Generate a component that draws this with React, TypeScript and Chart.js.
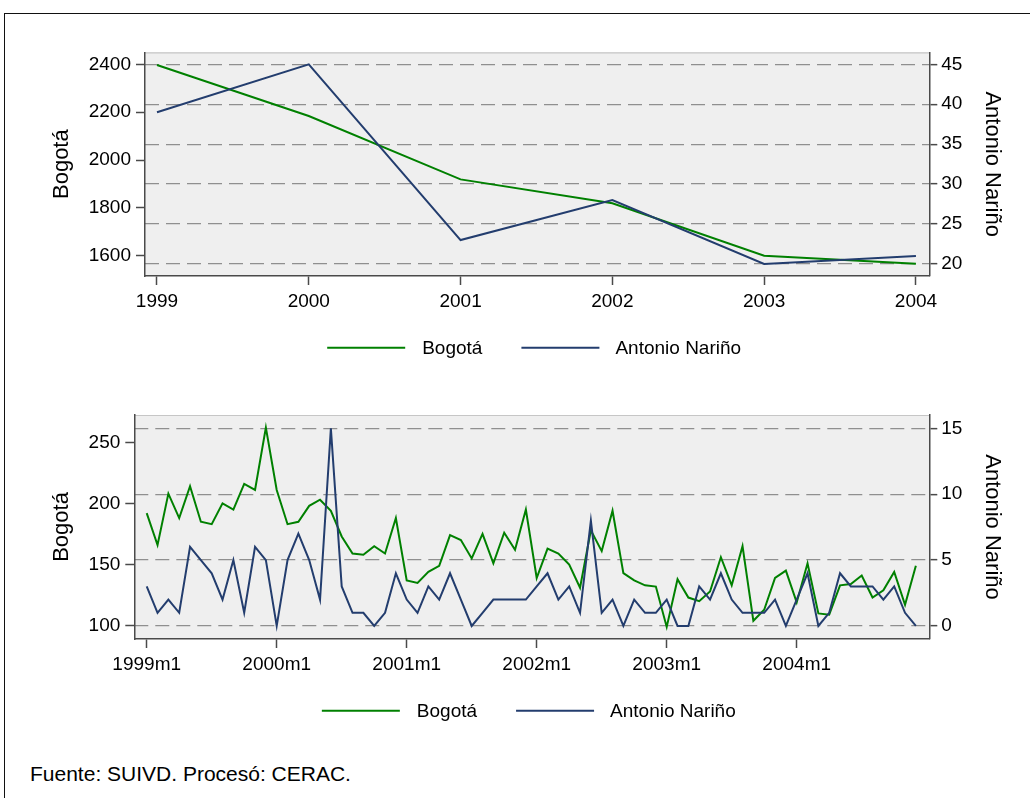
import React, { useEffect, useRef } from "react";
import { Chart, registerables } from "chart.js";

Chart.register(...registerables);

// ---------- data ----------
const years = [1999, 2000, 2001, 2002, 2003, 2004];
const bogotaYearly = [2397, 2184, 1919, 1819, 1600, 1566];
const narinoYearly = [39, 45, 23, 28, 20, 21];

const bogotaMonthly = [
  192, 166, 208, 188, 214, 185, 183, 200, 195, 216, 211, 262,
  211, 183, 185, 198, 203, 194, 173, 159, 158, 165, 159, 188,
  137, 135, 144, 149, 174, 170, 155, 175, 151, 176, 162, 195,
  139, 163, 159, 150, 131, 178, 161, 194, 143, 137, 133, 132,
  99, 138, 123, 120, 128, 156, 133, 165, 104, 113, 139, 145,
  119, 151, 110, 109, 133, 134, 141, 123, 129, 144, 117, 149,
];
const narinoMonthly = [
  3, 1, 2, 1, 6, 5, 4, 2, 5, 1, 6, 5,
  0, 5, 7, 5, 2, 15, 3, 1, 1, 0, 1, 4,
  2, 1, 3, 2, 4, 2, 0, 1, 2, 2, 2, 2,
  3, 4, 2, 3, 1, 8, 1, 2, 0, 2, 1, 1,
  2, 0, 0, 3, 2, 4, 2, 1, 1, 1, 2, 0,
  2, 4, 0, 1, 4, 3, 3, 3, 2, 3, 1, 0,
];
const monthTickIndex = [0, 12, 24, 36, 48, 60];
const monthTickLabels = ["1999m1", "2000m1", "2001m1", "2002m1", "2003m1", "2004m1"];

const leftTicksTop = [1600, 1800, 2000, 2200, 2400];
const rightTicksTop = [20, 25, 30, 35, 40, 45];
const leftTicksBottom = [100, 150, 200, 250];
const rightTicksBottom = [0, 5, 10, 15];

const seriesNames = ["Bogotá", "Antonio Nariño"];

// ---------- style ----------
const FONT = "'Liberation Sans', Arial, Helvetica, sans-serif";
const GREEN = "#008000";
const NAVY = "#233d6e";
const AXIS = "#4a4a4a";
const GRID = "#8f8f8f";
const W = 1030;

const plotBgPlugin = {
  id: "plotBg",
  beforeDraw(chart: any) {
    const { ctx, chartArea: a } = chart;
    ctx.save();
    ctx.fillStyle = "#efefef";
    ctx.fillRect(a.left, a.top, a.right - a.left, a.bottom - a.top);
    ctx.strokeStyle = "#c6c6c6";
    ctx.lineWidth = 1.2;
    ctx.beginPath();
    ctx.moveTo(a.left, a.top + 0.5);
    ctx.lineTo(a.right, a.top + 0.5);
    ctx.stroke();
    ctx.restore();
  },
};

const legendPlugin = {
  id: "stataLegend",
  afterDraw(chart: any, _args: any, opts: any) {
    const { ctx, chartArea: a } = chart;
    ctx.save();
    ctx.font = `${opts.size}px ${FONT}`;
    const ds = chart.data.datasets;
    const lineLen = 78;
    const w0 = ctx.measureText(ds[0].label).width;
    const w1 = ctx.measureText(ds[1].label).width;
    const total = lineLen + 17 + w0 + 39 + lineLen + 16 + w1;
    let x = (a.left + a.right) / 2 + opts.shift - total / 2;
    const y = a.bottom + opts.offset;
    ctx.textBaseline = "middle";
    ctx.textAlign = "left";
    ctx.fillStyle = "#000";
    ctx.lineWidth = 2;
    // item 1
    ctx.strokeStyle = ds[0].borderColor;
    ctx.beginPath();
    ctx.moveTo(x, y);
    ctx.lineTo(x + lineLen, y);
    ctx.stroke();
    x += lineLen + 17;
    ctx.fillText(ds[0].label, x, y + 1);
    x += w0 + 39;
    // item 2
    ctx.strokeStyle = ds[1].borderColor;
    ctx.beginPath();
    ctx.moveTo(x, y);
    ctx.lineTo(x + lineLen, y);
    ctx.stroke();
    x += lineLen + 16;
    ctx.fillText(ds[1].label, x, y + 1);
    ctx.restore();
  },
};

type Params = {
  bogota: { x: number; y: number }[];
  narino: { x: number; y: number }[];
  xMin: number;
  xMax: number;
  xTicks: number[];
  xLabel: (v: number) => string;
  lMin: number;
  lMax: number;
  lTicks: number[];
  rMin: number;
  rMax: number;
  rTicks: number[];
  padTop: number;
  xHeight: number;
  leftWidth: number;
  rightWidth: number;
  legendShift: number;
};

function buildConfig(p: Params): any {
  const tickFont = { family: FONT, size: 19 };
  const titleFont = { family: FONT, size: 22 };
  return {
    type: "line",
    data: {
      datasets: [
        {
          label: seriesNames[0],
          data: p.bogota,
          yAxisID: "yL",
          borderColor: GREEN,
          borderWidth: 2,
          pointRadius: 0,
          tension: 0,
          fill: false,
          order: 1,
        },
        {
          label: seriesNames[1],
          data: p.narino,
          yAxisID: "yR",
          borderColor: NAVY,
          borderWidth: 2,
          pointRadius: 0,
          tension: 0,
          fill: false,
          order: 0,
        },
      ],
    },
    options: {
      responsive: false,
      animation: false,
      events: [],
      layout: { padding: { top: p.padTop, left: 0, right: 0, bottom: 0 } },
      plugins: {
        legend: { display: false },
        tooltip: { enabled: false },
        stataLegend: { size: 19, offset: 71.7, shift: p.legendShift },
      },
      scales: {
        x: {
          type: "linear",
          position: "bottom",
          min: p.xMin,
          max: p.xMax,
          afterBuildTicks: (s: any) => {
            s.ticks = p.xTicks.map((v) => ({ value: v }));
          },
          afterFit: (s: any) => {
            s.height = p.xHeight;
          },
          ticks: {
            autoSkip: false,
            maxRotation: 0,
            minRotation: 0,
            padding: 5,
            color: "#000",
            font: tickFont,
            callback: (v: number) => p.xLabel(v),
          },
          grid: {
            drawOnChartArea: false,
            tickLength: 9,
            tickColor: AXIS,
            tickWidth: 1.5,
            color: AXIS,
          },
          border: { color: AXIS, width: 1.5 },
        },
        yL: {
          type: "linear",
          position: "left",
          min: p.lMin,
          max: p.lMax,
          afterBuildTicks: (s: any) => {
            s.ticks = p.lTicks.map((v) => ({ value: v }));
          },
          afterFit: (s: any) => {
            s.width = p.leftWidth;
          },
          ticks: {
            padding: 5,
            color: "#000",
            font: tickFont,
            callback: (v: number) => String(v),
          },
          grid: {
            drawOnChartArea: false,
            tickLength: 9,
            tickColor: AXIS,
            tickWidth: 1.5,
            color: AXIS,
          },
          border: { color: AXIS, width: 1.5 },
          title: {
            display: true,
            text: seriesNames[0],
            color: "#000",
            font: titleFont,
            padding: { top: 48.8, bottom: 0 },
          },
        },
        yR: {
          type: "linear",
          position: "right",
          min: p.rMin,
          max: p.rMax,
          afterBuildTicks: (s: any) => {
            s.ticks = p.rTicks.map((v) => ({ value: v }));
          },
          afterFit: (s: any) => {
            s.width = p.rightWidth;
          },
          ticks: {
            padding: 4,
            color: "#000",
            font: tickFont,
            callback: (v: number) => String(v),
          },
          grid: {
            drawOnChartArea: true,
            color: GRID,
            lineWidth: 1.3,
            tickLength: 8,
            tickColor: AXIS,
            tickWidth: 1.5,
          },
          border: { color: AXIS, width: 1.5, dash: [14, 7] },
          title: {
            display: true,
            text: seriesNames[1],
            color: "#000",
            font: titleFont,
            padding: { top: 25, bottom: 0 },
          },
        },
      },
    },
    plugins: [plotBgPlugin, legendPlugin],
  };
}

function ChartCanvas({ params, top, height }: { params: Params; top: number; height: number }) {
  const ref = useRef<HTMLCanvasElement | null>(null);
  useEffect(() => {
    if (!ref.current) return;
    const chart = new Chart(ref.current, buildConfig(params));
    return () => chart.destroy();
  }, [params]);
  return (
    <canvas
      ref={ref}
      width={W}
      height={height}
      style={{ position: "absolute", left: 0, top, width: W, height }}
    />
  );
}

const topParams: Params = {
  bogota: years.map((y, i) => ({ x: y, y: bogotaYearly[i] })),
  narino: years.map((y, i) => ({ x: y, y: narinoYearly[i] })),
  xMin: 1998.921,
  xMax: 2004.088,
  xTicks: years,
  xLabel: (v) => String(v),
  lMin: 1515.2,
  lMax: 2450.2,
  lTicks: leftTicksTop,
  rMin: 18.5,
  rMax: 46.5,
  rTicks: rightTicksTop,
  padTop: 52.3,
  xHeight: 390 - 276,
  leftWidth: 145,
  rightWidth: W - 929.3,
  legendShift: -3,
};

const bottomParams: Params = {
  bogota: bogotaMonthly.map((v, i) => ({ x: i, y: v })),
  narino: narinoMonthly.map((v, i) => ({ x: i, y: v })),
  xMin: -1.145,
  xMax: 72.24,
  xTicks: monthTickIndex,
  xLabel: (v) => monthTickLabels[monthTickIndex.indexOf(v)] ?? "",
  lMin: 89.1,
  lMax: 272.3,
  lTicks: leftTicksBottom,
  rMin: -0.99,
  rMax: 16.01,
  rTicks: rightTicksBottom,
  padTop: 25,
  xHeight: 360 - 249,
  leftWidth: 134.3,
  rightWidth: W - 929.3,
  legendShift: -3,
};

export default function App() {
  return (
    <div
      style={{
        position: "fixed",
        left: 0,
        top: 0,
        width: W,
        height: 798,
        overflow: "hidden",
        background: "#fff",
      }}
    >
      <div
        style={{
          position: "absolute",
          left: 4,
          top: 13,
          width: 1200,
          height: 1000,
          border: "1px solid #111",
          boxSizing: "border-box",
        }}
      />
      <ChartCanvas params={topParams} top={0} height={390} />
      <ChartCanvas params={bottomParams} top={390} height={360} />
      <div
        style={{
          position: "absolute",
          left: 30,
          top: 762,
          fontFamily: FONT,
          fontSize: 21,
          lineHeight: "24px",
          color: "#000",
          whiteSpace: "nowrap",
        }}
      >
        Fuente: SUIVD. Procesó: CERAC.
      </div>
    </div>
  );
}
